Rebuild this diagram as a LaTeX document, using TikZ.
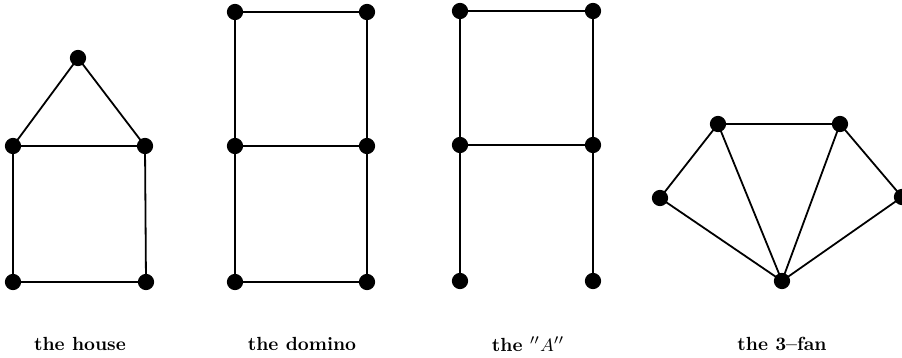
\documentclass[tikz,border=0pt]{standalone}
\usetikzlibrary{positioning}
\begin{document}
\begin{tikzpicture}[x=0.5pt, y=-0.5pt, line width=0.9pt]
\tikzstyle{vStyle}=[shape = circle, minimum size = 7.5pt, inner sep = 0pt,
outer sep = 0pt, draw, fill=black, semithick]
\tikzstyle{lStyle}=[shape = rectangle, draw=none, fill=none, inner sep = 0pt,
font=\bfseries\fontsize{9.5}{11}\selectfont]
\tikzset{every node/.style=vStyle}
\useasboundingbox (0,0) rectangle (902,358);

% the house
\draw (78,58) node (h1) {} (13,146) node (h2) {} (145,146) node (h3) {}
	(13,282) node (h4) {} (146,282) node (h5) {};
\foreach \i/\j in {1/2,1/3,2/3,2/4,3/5,4/5}
	\draw (h\i) -- (h\j);

% the domino
\foreach \i/\y in {1/12,2/146,3/282}
{
	\draw (235,\y) node (d\i) {} (367,\y) node (e\i) {};
	\draw (d\i) -- (e\i);
}
\foreach \i/\j in {1/2,2/3}
{
	\draw (d\i) -- (d\j);
	\draw (e\i) -- (e\j);
}

% the A
\foreach \i/\y in {1/11,2/145,3/281}
	\draw (460,\y) node (a\i) {} (593,\y) node (b\i) {};
\foreach \i/\j in {1/2,2/3}
{
	\draw (a\i) -- (a\j);
	\draw (b\i) -- (b\j);
}
\draw (a1) -- (b1);
\draw (a2) -- (b2);

% the 3-fan
\draw (660,198) node (f1) {} (718,124) node (f2) {} (840,124) node (f3) {}
	(902,197) node (f4) {} (782,281) node (f0) {};
\foreach \i/\j in {1/2,2/3,3/4}
	\draw (f\i) -- (f\j);
\foreach \i in {1,...,4}
	\draw (f0) -- (f\i);

\draw (80,344) node[lStyle] (lh) {the house};
\draw (302,344) node[lStyle] (ld) {the domino};
\draw (528,344) node[lStyle] (la) {the $''A''$};
\draw (782,344) node[lStyle] (lf) {the 3--fan};
\end{tikzpicture}
\end{document}
